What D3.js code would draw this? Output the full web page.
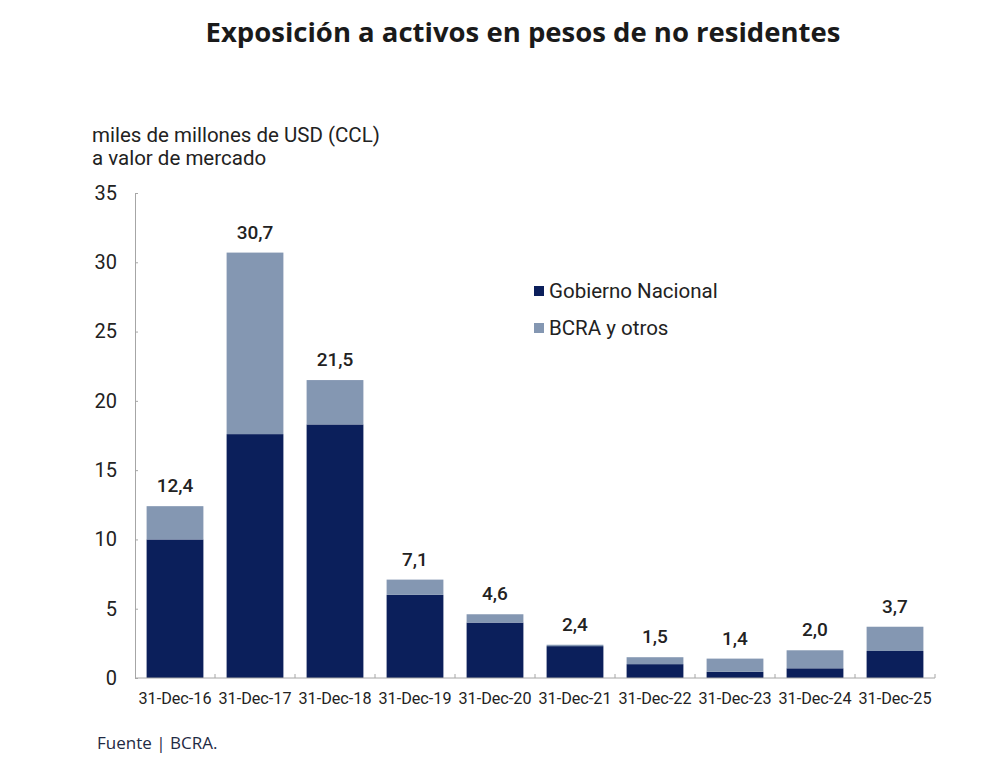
<!DOCTYPE html>
<html>
  <head>
    <meta charset="UTF-8">
    <title>Exposición a activos en pesos de no residentes</title>
    <script src="https://d3js.org/d3.v7.min.js" charset="utf-8"></script>
    <style>
      body { margin: 0; background: #fff; }
    </style>
  </head>
  <body>
    <script>
        var w = 1000;
        var h = 774;

        // data (miles de millones de USD)
        var fechas = ["31-Dec-16", "31-Dec-17", "31-Dec-18", "31-Dec-19", "31-Dec-20",
                      "31-Dec-21", "31-Dec-22", "31-Dec-23", "31-Dec-24", "31-Dec-25"];
        var gobierno = [10.0, 17.6, 18.3, 6.0, 4.0, 2.3, 1.0, 0.45, 0.7, 1.95];
        var bcra     = [2.4, 13.1, 3.2, 1.1, 0.6, 0.1, 0.5, 0.95, 1.3, 1.75];
        var totales  = ["12,4", "30,7", "21,5", "7,1", "4,6", "2,4", "1,5", "1,4", "2,0", "3,7"];
        var yTicks   = [0, 5, 10, 15, 20, 25, 30, 35];
        var series   = ["Gobierno Nacional", "BCRA y otros"];

        var colores = {"Gobierno Nacional": "#0b1f5b", "BCRA y otros": "#8497b2"};

        var rows = fechas.map(function(f, i){
            return {fecha: f, "Gobierno Nacional": gobierno[i], "BCRA y otros": bcra[i], total: totales[i]};
        });

        // plot area (note: "top" is reserved on window, so use other names)
        var plotL = 135, plotR = 935, plotT = 193, plotB = 678;

        var svg = d3.select("body").append("svg")
            .attr("width", w)
            .attr("height", h);

        var x = d3.scaleBand()
            .domain(fechas)
            .range([plotL, plotR])
            .paddingInner(0.29)
            .paddingOuter(0.145);

        var y = d3.scaleLinear()
            .domain([0, 35])
            .range([plotB, plotT]);

        // title
        svg.append("text")
            .attr("x", 523)
            .attr("y", 42)
            .attr("text-anchor", "middle")
            .attr("font-family", "'Open Sans', sans-serif")
            .attr("font-weight", "bold")
            .attr("font-size", "27.5px")
            .attr("fill", "#1a1a1a")
            .text("Exposición a activos en pesos de no residentes");

        // unit label
        svg.append("text")
            .attr("x", 92)
            .attr("y", 142)
            .attr("font-family", "Roboto, sans-serif")
            .attr("font-size", "20.5px")
            .attr("fill", "#222")
            .text("miles de millones de USD (CCL)");
        svg.append("text")
            .attr("x", 92)
            .attr("y", 165)
            .attr("font-family", "Roboto, sans-serif")
            .attr("font-size", "20.5px")
            .attr("fill", "#222")
            .text("a valor de mercado");

        // stacked bars
        var stack = d3.stack().keys(series);
        var layers = stack(rows);

        svg.append("g").selectAll("g")
            .data(layers)
            .enter()
            .append("g")
            .attr("fill", function(d){ return colores[d.key]; })
            .selectAll("rect")
            .data(function(d){ return d; })
            .enter()
            .append("rect")
            .attr("x", function(d){ return x(d.data.fecha); })
            .attr("y", function(d){ return y(d[1]); })
            .attr("width", x.bandwidth())
            .attr("height", function(d){ return y(d[0]) - y(d[1]); });

        // y axis
        var yAxis = d3.axisLeft(y)
            .tickValues(yTicks)
            .tickSize(-3)
            .tickPadding(18);
        var gy = svg.append("g")
            .attr("transform", "translate(" + plotL + ",0)")
            .call(yAxis);
        gy.select(".domain").attr("stroke", "#a6a6a6");
        gy.selectAll(".tick line").attr("stroke", "#a6a6a6");
        gy.selectAll(".tick text")
            .attr("font-family", "Roboto, sans-serif")
            .attr("font-size", "20px")
            .attr("fill", "#222");

        // x axis, ticks at band boundaries
        var gx = svg.append("g")
            .attr("transform", "translate(0," + plotB + ")");
        gx.append("line")
            .attr("x1", plotL).attr("x2", plotR)
            .attr("stroke", "#a6a6a6");
        var bounds = fechas.map(function(f){ return x(f) - x.step() * x.paddingInner() / 2; }).concat([plotR]);
        gx.selectAll("line.tick")
            .data(bounds.slice(1))
            .enter()
            .append("line")
            .attr("class", "tick")
            .attr("x1", function(d){ return d; })
            .attr("x2", function(d){ return d; })
            .attr("y1", 0).attr("y2", -4)
            .attr("stroke", "#a6a6a6");
        gx.selectAll("text")
            .data(fechas)
            .enter()
            .append("text")
            .attr("x", function(d){ return x(d) + x.bandwidth() / 2; })
            .attr("y", 26)
            .attr("text-anchor", "middle")
            .attr("font-family", "Roboto, sans-serif")
            .attr("font-size", "16.2px")
            .attr("fill", "#222")
            .text(function(d){ return d; });

        // totals above bars
        svg.append("g").selectAll("text")
            .data(rows)
            .enter()
            .append("text")
            .attr("x", function(d){ return x(d.fecha) + x.bandwidth() / 2; })
            .attr("y", function(d){ return y(d["Gobierno Nacional"] + d["BCRA y otros"]) - 14; })
            .attr("text-anchor", "middle")
            .attr("font-family", "Roboto, sans-serif")
            .attr("font-weight", "500")
            .attr("font-size", "19px")
            .attr("fill", "#222")
            .text(function(d){ return d.total; });

        // legend
        var legend = svg.append("g").selectAll("g")
            .data(series)
            .enter()
            .append("g")
            .attr("transform", function(d, i){ return "translate(534," + (286 + i * 37) + ")"; });
        legend.append("rect")
            .attr("width", 10)
            .attr("height", 10)
            .attr("fill", function(d){ return colores[d]; });
        legend.append("text")
            .attr("x", 15)
            .attr("y", 12)
            .attr("font-family", "Roboto, sans-serif")
            .attr("font-size", "20.5px")
            .attr("fill", "#222")
            .text(function(d){ return d; });

        // source
        svg.append("text")
            .attr("x", 97)
            .attr("y", 749)
            .attr("font-family", "'Open Sans', sans-serif")
            .attr("font-size", "17px")
            .attr("fill", "#1f2a44")
            .text("Fuente | BCRA.");
    </script>
  </body>
</html>
